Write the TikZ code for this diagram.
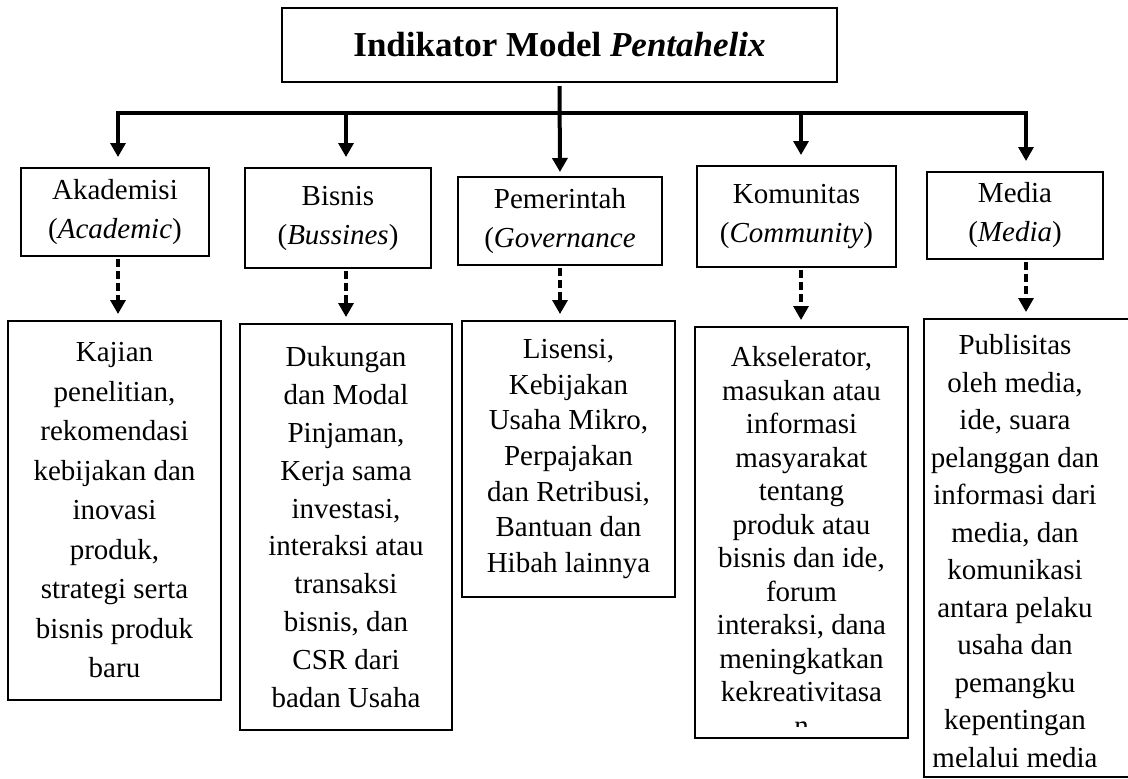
\documentclass[tikz,border=0pt]{standalone}
\usepackage{fontspec}
\setmainfont{Liberation Serif}
\usetikzlibrary{arrows.meta,positioning,calc}
\tikzset{
  % heading box on top
  titlebox/.style={draw, line width=1pt, minimum width=277.5pt, minimum height=37pt,
    font=\fontsize{17.5}{21}\selectfont\bfseries},
  % the five actors of the helix
  actorbox/.style={draw, line width=1pt, align=center, inner sep=0pt,
    font=\fontsize{14.5}{19.5}\selectfont},
  % boxes with what each actor brings
  rolebox/.style={draw, line width=1pt, align=center, inner sep=0pt},
  roletext/.style={align=center, inner sep=0pt},
  % solid branch arrows
  brancharr/.style={-{Triangle[length=7pt,width=7.5pt]}, line width=1.6pt},
  % dashed arrows down to the roles
  rolearr/.style={-{Triangle[length=7pt,width=7.5pt]}, line width=1.6pt,
    dash pattern=on 4pt off 2pt},
}
\newcommand{\rolefont}[1]{\fontsize{14.5}{#1}\selectfont}

\begin{document}
\begin{tikzpicture}[x=0.5pt, y=-0.5pt]
  \useasboundingbox (0,0) rectangle (1128,778);
  % heading
  \node[titlebox] (title) at (559.5,45) {Indikator Model \textit{Pentahelix}};
  % actors
  \node[actorbox, minimum width=94pt, minimum height=44pt] (akad) at (115,212)
    {Akademisi\\(\textit{Academic})};
  \node[actorbox, minimum width=93pt, minimum height=50pt] (bisnis) at (338,218)
    {Bisnis\\(\textit{Bussines})};
  \node[actorbox, minimum width=102pt, minimum height=44pt] (pem) at (560,221)
    {Pemerintah\\(\textit{Governance}};
  \node[actorbox, minimum width=99.5pt, minimum height=50.5pt] (komunitas) at (796.5,216.5)
    {Komunitas\\(\textit{Community})};
  \node[actorbox, minimum width=88pt, minimum height=43.5pt] (media) at (1015,215.5)
    {Media\\(\textit{Media})};
  % roles
  \node[rolebox, minimum width=106.5pt, minimum height=189.5pt, font=\rolefont{19.75}]
    (kajian) at (114.5,510.5) {Kajian\\penelitian,\\rekomendasi\\kebijakan dan\\inovasi\\produk,\\strategi serta\\bisnis produk\\baru};
  \node[rolebox, minimum width=106pt, minimum height=203pt, font=\rolefont{18.9}]
    (dukungan) at (346,527) {Dukungan\\dan Modal\\Pinjaman,\\Kerja sama\\investasi,\\interaksi atau\\transaksi\\bisnis, dan\\CSR dari\\badan Usaha};
  \node[rolebox, minimum width=106.5pt, minimum height=138pt, font=\rolefont{17.8}]
    (lisensi) at (568.5,459) {Lisensi,\\Kebijakan\\Usaha Mikro,\\Perpajakan\\dan Retribusi,\\Bantuan dan\\Hibah lainnya};
  \node[rolebox, minimum width=106.5pt, minimum height=205.5pt] (aksel) at (801.5,532.5) {};
  \begin{scope}
    \clip ([yshift=6.5pt]aksel.south west) rectangle (aksel.north east);
    \node[roletext, anchor=north, font=\rolefont{16.75}] (akseltxt) at ([yshift=-10pt]aksel.north)
      {Akselerator,\\masukan atau\\informasi\\masyarakat\\tentang\\produk atau\\bisnis dan ide,\\forum\\interaksi, dana\\meningkatkan\\kekreativitasa\\n};
  \end{scope}
  \node[rolebox, anchor=north west, minimum width=110pt, minimum height=229pt] (publ) at (923,318) {};
  \node[roletext, font=\rolefont{18.75}] (publtxt) at (1015,551)
    {Publisitas\\oleh media,\\ide, suara\\pelanggan dan\\informasi dari\\media, dan\\komunikasi\\antara pelaku\\usaha dan\\pemangku\\kepentingan\\melalui media};
  % branch bar
  \coordinate (d1) at (118,113);
  \coordinate (d2) at (346,113);
  \coordinate (d4) at (801,113);
  \coordinate (d5) at (1026,113);
  \draw[line width=1.6pt, line cap=rect] (d1) -- (d5);
  \draw[brancharr, line width=2pt, shorten <=1.5pt, shorten >=2pt] (title.south) -- (pem.north);
  \foreach \d/\b in {d1/akad, d2/bisnis, d4/komunitas, d5/media}
    \draw[brancharr, shorten >=5pt] (\d) -- (\d |- \b.north);
  % dashed links to the roles
  \foreach \d/\a/\r in {d1/akad/kajian, d2/bisnis/dukungan, pem/pem/lisensi, d4/komunitas/aksel, d5/media/publ}
    \draw[rolearr, shorten <=1pt, shorten >=3pt] (\d |- \a.south) -- (\d |- \r.north);
\end{tikzpicture}
\end{document}
